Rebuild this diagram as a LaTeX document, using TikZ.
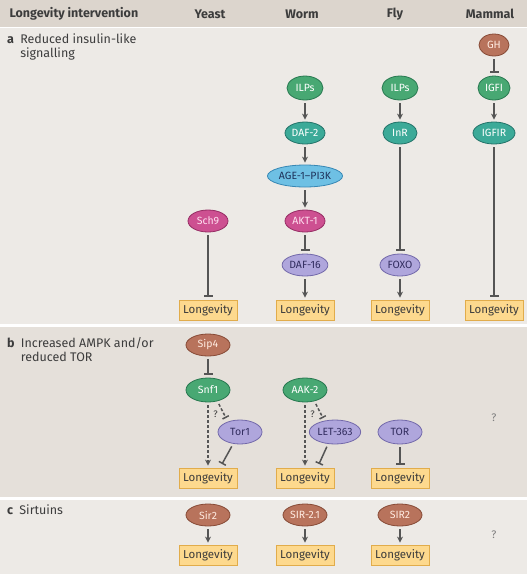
\documentclass[tikz,border=0pt]{standalone}
\usepackage{fontspec}
\setmainfont{Fira Sans}
\usetikzlibrary{shapes.geometric,arrows.meta}

\definecolor{headbg}{HTML}{DCD5CD}
\definecolor{panelbg}{HTML}{EDEAE6}
\definecolor{panelbgb}{HTML}{E5E0DA}
\definecolor{linkgray}{HTML}{555555}
\definecolor{txtgray}{HTML}{3C3C3C}

\tikzstyle{prot} = [ellipse,inner sep=0.5pt,minimum width=40pt,minimum height=22pt,line width=0.8pt,font=\fontsize{10.5}{12}\selectfont]
\tikzstyle{green} = [prot,fill={rgb,255:red,72;green,168;blue,115},draw={rgb,255:red,40;green,120;blue,80},text=white]
\tikzstyle{teal} = [prot,fill={rgb,255:red,60;green,170;blue,152},draw={rgb,255:red,35;green,115;blue,105},text=white]
\tikzstyle{blue} = [prot,fill={rgb,255:red,110;green,192;blue,228},draw={rgb,255:red,55;green,135;blue,180},text={rgb,255:red,30;green,50;blue,90}]
\tikzstyle{pink} = [prot,fill={rgb,255:red,205;green,80;blue,145},draw={rgb,255:red,150;green,45;blue,100},text={rgb,255:red,255;green,225;blue,240}]
\tikzstyle{purple} = [prot,fill={rgb,255:red,175;green,166;blue,220},draw={rgb,255:red,115;green,105;blue,170},text={rgb,255:red,50;green,45;blue,95}]
\tikzstyle{brown} = [prot,fill={rgb,255:red,184;green,115;blue,92},draw={rgb,255:red,135;green,75;blue,55},text={rgb,255:red,255;green,235;blue,225}]
\tikzstyle{longbox} = [rectangle,draw={rgb,255:red,225;green,172;blue,75},fill={rgb,255:red,253;green,217;blue,142},line width=0.8pt,minimum width=58pt,minimum height=20pt,inner sep=1pt,text=txtgray,font=\fontsize{11.5}{12}\selectfont]
\tikzstyle{act} = [draw=linkgray,line width=1.5pt,-{Stealth[length=6pt,width=6pt]},shorten <=3pt,shorten >=2pt]
\tikzstyle{inh} = [draw=linkgray,line width=1.5pt,-{Bar[width=9pt,line width=1.5pt]},shorten <=3pt,shorten >=3pt]
\tikzstyle{dashline} = [dash pattern=on 3pt off 2pt]
\tikzstyle{colhead} = [font=\bfseries\fontsize{12.5}{14}\selectfont,text=txtgray]
\tikzstyle{panellabel} = [anchor=north west,align=left,font=\fontsize{12.5}{14}\selectfont,text=txtgray,inner sep=0pt]
\tikzstyle{unknown} = [text=gray,font=\fontsize{11}{12}\selectfont]

\begin{document}
\begin{tikzpicture}[x=1pt,y=-1pt]
\useasboundingbox (0,0) rectangle (527,574);
\fill[headbg] (0,0) rectangle (527,27);
\fill[panelbg] (0,28) rectangle (527,324);
\fill[panelbgb] (0,327) rectangle (527,497);
\fill[panelbg] (0,500) rectangle (527,574);

\node[colhead,anchor=west] (hint) at (6,14) {Longevity intervention};
\node[colhead] (hyeast) at (210,14) {Yeast};
\node[colhead] (hworm) at (302,14) {Worm};
\node[colhead] (hfly) at (395,14) {Fly};
\node[colhead] (hmammal) at (490,14) {Mammal};

\node[panellabel] (la) at (7,34) {\textbf{a}\enspace Reduced insulin-like\\\phantom{\textbf{a}}\enspace signalling};
\node[panellabel] (lb) at (7,337) {\textbf{b}\enspace Increased AMPK and/or\\\phantom{\textbf{b}}\enspace reduced TOR};
\node[panellabel] (lc) at (7,505) {\textbf{c}\enspace Sirtuins};

\node[brown,minimum width=30pt] (gh) at (494,45) {GH};
\node[green,minimum width=36pt,minimum height=24pt] (wilps) at (305,88) {ILPs};
\node[green,minimum width=36pt,minimum height=24pt] (filps) at (400,88) {ILPs};
\node[green,minimum width=32pt,minimum height=24pt] (igf) at (494,88) {IGFI};
\node[teal] (daf2) at (305,133) {DAF-2};
\node[teal,minimum width=34pt] (inr) at (400,133) {InR};
\node[teal,minimum width=42pt] (igfr) at (494,133) {IGFIR};
\node[blue,minimum width=68pt] (age1) at (305,176) {AGE-1–PI3K};
\node[pink] (akt1) at (305,221) {AKT-1};
\node[pink] (sch9) at (208,221) {Sch9};
\node[purple,minimum width=44pt] (daf16) at (305,265) {DAF-16};
\node[purple] (foxo) at (400,265) {FOXO};
\node[longbox] (la1) at (208,310) {Longevity};
\node[longbox] (la2) at (305,310) {Longevity};
\node[longbox] (la3) at (400,310) {Longevity};
\node[longbox] (la4) at (494,310) {Longevity};

\draw[inh] (gh) -- (igf);
\draw[act] (wilps) -- (daf2);
\draw[act] (filps) -- (inr);
\draw[act] (igf) -- (igfr);
\draw[act] (daf2) -- (age1);
\draw[act] (age1) -- (akt1);
\draw[inh] (akt1) -- (daf16);
\draw[inh] (inr) -- (foxo);
\draw[act] (daf16) -- (la2);
\draw[act] (foxo) -- (la3);
\draw[inh] (sch9) -- (la1);
\draw[inh] (igfr) -- (la4);

\node[brown,minimum width=44pt] (sip4) at (208,345) {Sip4};
\node[green,minimum width=44pt,minimum height=24pt] (snf1) at (208,390) {Snf1};
\node[purple,minimum width=44pt,minimum height=24pt] (tor1) at (240,432) {Tor1};
\node[green,minimum width=44pt,minimum height=24pt] (aak2) at (305,390) {AAK-2};
\node[purple,minimum width=46pt,minimum height=24pt] (let363) at (335,432) {LET-363};
\node[purple,minimum width=44pt,minimum height=24pt] (tor) at (400,432) {TOR};
\node[longbox] (lb1) at (208,478) {Longevity};
\node[longbox] (lb2) at (305,478) {Longevity};
\node[longbox] (lb3) at (400,478) {Longevity};
\node[unknown] (qb) at (494,418) {?};
\coordinate (snf1end) at (226,418);
\coordinate (tor1end) at (222,464);
\coordinate (aak2end) at (323,418);
\coordinate (let363end) at (319,464);

\draw[inh] (sip4) -- (snf1);
\draw[act,dashline] (snf1.south) -- (lb1.north);
\draw[inh,dashline,shorten >=0pt,-{Bar[width=7pt,line width=1.5pt]}] (snf1.-50) -- (snf1end) node[pos=0.75,left=2pt,text=txtgray,font=\fontsize{9.5}{10}\selectfont] (q1) {?};
\draw[inh,shorten >=0pt,-{Bar[width=8pt,line width=1.5pt]}] (tor1.-120) -- (tor1end);
\draw[act,dashline] (aak2.south) -- (lb2.north);
\draw[inh,dashline,shorten >=0pt,-{Bar[width=7pt,line width=1.5pt]}] (aak2.-50) -- (aak2end) node[pos=0.75,left=2pt,text=txtgray,font=\fontsize{9.5}{10}\selectfont] (q2) {?};
\draw[inh,shorten >=0pt,-{Bar[width=8pt,line width=1.5pt]}] (let363.-120) -- (let363end);
\draw[inh] (tor) -- (lb3);

\node[brown,minimum width=44pt] (sir2) at (208,515) {Sir2};
\node[brown,minimum width=44pt] (sir21) at (305,515) {SIR-2.1};
\node[brown,minimum width=44pt] (sirb) at (400,515) {SIR2};
\node[longbox] (lc1) at (208,555) {Longevity};
\node[longbox] (lc2) at (305,555) {Longevity};
\node[longbox] (lc3) at (400,555) {Longevity};
\node[unknown] (qc) at (494,535) {?};

\draw[act] (sir2) -- (lc1);
\draw[act] (sir21) -- (lc2);
\draw[act] (sirb) -- (lc3);
\end{tikzpicture}
\end{document}
